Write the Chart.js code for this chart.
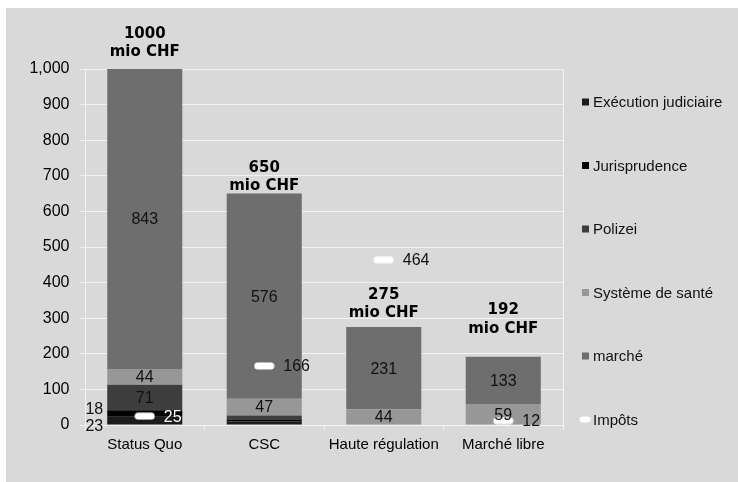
<!DOCTYPE html>
<html>
<head>
<meta charset="utf-8">
<script src="https://cdn.jsdelivr.net/npm/chart.js@4"></script>
<style>
  html, body { margin: 0; padding: 0; background: #fff; }
</style>
</head>
<body>
<canvas id="chart" width="738" height="482"></canvas>
<script>
// scenarios and cost components (mio CHF)
const categories = ['Status Quo', 'CSC', 'Haute régulation', 'Marché libre'];
const execution = [23.3, 10, 0, 0];
const jurisprudence = [18.2, 4, 0, 0];
const polizei = [71.4, 13, 0, 0];
const sante = [44.3, 47, 44, 59];
const marche = [842.8, 576, 231, 133];
const impots = [25, 166, 464, 12];

const GRID = '#f2f2f2';
const FONT = "'Liberation Sans', Arial, sans-serif";

// white dash used as marker for Impôts
function dash(w, h) {
  const c = document.createElement('canvas');
  c.width = w + 1; c.height = h + 1;
  const g = c.getContext('2d');
  g.fillStyle = '#fff';
  g.beginPath();
  g.roundRect(0.5, 0.5, w, h, h / 2);
  g.fill();
  return c;
}
const marker = dash(20, 7);
const legendMarker = dash(11, 6);

const panel = {
  id: 'panel',
  beforeDraw(chart) {
    const ctx = chart.ctx;
    ctx.save();
    ctx.fillStyle = '#fff';
    ctx.fillRect(0, 0, chart.width, chart.height);
    ctx.fillStyle = '#d9d9d9';
    ctx.fillRect(6, 8, chart.width - 6, chart.height - 8);
    ctx.restore();
  }
};

function isDark(hex) {
  const n = parseInt(hex.slice(1), 16);
  return ((n >> 16) + ((n >> 8) & 255) + (n & 255)) / 3 < 90;
}

const labels = {
  id: 'labels',
  afterDatasetsDraw(chart, args, opts) {
    const ctx = chart.ctx;
    const y = chart.scales.y;
    const sets = chart.data.datasets;
    ctx.save();
    ctx.font = '16px ' + FONT;
    ctx.textBaseline = 'middle';

    const outside = categories.map(() => []);
    sets.forEach((ds, di) => {
      const meta = chart.getDatasetMeta(di);
      if (meta.type !== 'bar') return;
      meta.data.forEach((bar, i) => {
        const v = ds.data[i];
        const p = bar.getProps(['x', 'y', 'base', 'width'], true);
        const cy = (p.y + p.base) / 2;
        if (v >= 40) {
          ctx.fillStyle = '#111';
          ctx.textAlign = 'center';
          ctx.fillText(Math.round(v), p.x, cy + 1);
        } else if (v >= 15) {
          outside[i].push({ text: Math.round(v), x: p.x - p.width / 2 - 4, y: cy });
        }
      });
    });

    // small segments: labels left of the bar, spread apart
    outside.forEach(list => {
      if (list.length === 2 && Math.abs(list[0].y - list[1].y) < 16.5) {
        const mid = (list[0].y + list[1].y) / 2 + 1;
        list.sort((a, b) => a.y - b.y);
        list[0].y = mid - 8.25;
        list[1].y = mid + 8.25;
      }
      list.forEach(l => {
        ctx.fillStyle = '#111';
        ctx.textAlign = 'right';
        ctx.fillText(l.text, l.x, l.y);
      });
    });

    // Impôts values next to the markers
    const lineIdx = sets.findIndex(d => d.type === 'line');
    chart.getDatasetMeta(lineIdx).data.forEach((pt, i) => {
      const v = sets[lineIdx].data[i];
      let acc = 0, colour = '#111';
      sets.forEach(ds => {
        if (ds.type === 'line') return;
        if (v >= acc && v < acc + ds.data[i] && isDark(ds.backgroundColor)) colour = '#fff';
        acc += ds.data[i];
      });
      ctx.fillStyle = colour;
      ctx.textAlign = 'left';
      ctx.fillText(v, pt.x + 19, pt.y + 1);
    });

    // totals above each stack
    ctx.font = 'bold 15px "DejaVu Sans", Verdana, sans-serif';
    ctx.textAlign = 'center';
    ctx.textBaseline = 'alphabetic';
    ctx.fillStyle = '#000';
    const barMeta = chart.getDatasetMeta(0);
    categories.forEach((c, i) => {
      const total = sets.filter(d => d.type !== 'line').reduce((s, d) => s + d.data[i], 0);
      const top = y.getPixelForValue(total) - opts.gaps[i];
      const x = barMeta.data[i].x;
      ctx.fillText(Math.round(total), x, top - 18.5);
      ctx.fillText('mio CHF', x, top);
    });
    ctx.restore();
  }
};

const legend = {
  id: 'sideLegend',
  afterDraw(chart) {
    const ctx = chart.ctx;
    ctx.save();
    ctx.font = '15px ' + FONT;
    ctx.textBaseline = 'middle';
    ctx.textAlign = 'left';
    chart.data.datasets.forEach((ds, i) => {
      const cy = 102 + i * 63.5;
      if (ds.type === 'line') {
        ctx.drawImage(legendMarker, 579, cy - 3.5);
      } else {
        ctx.fillStyle = ds.backgroundColor;
        ctx.fillRect(582, cy - 3.5, 7, 7);
      }
      ctx.fillStyle = '#111';
      ctx.fillText(ds.label, 593, cy + 1);
    });
    ctx.restore();
  }
};

const bar = (label, data, color) => ({
  label, data, backgroundColor: color, borderWidth: 0,
  barPercentage: 0.628, categoryPercentage: 1, order: 1
});

new Chart(document.getElementById('chart'), {
  type: 'bar',
  data: {
    labels: categories,
    datasets: [
      bar('Exécution judiciaire', execution, '#1c1c1c'),
      bar('Jurisprudence', jurisprudence, '#020202'),
      bar('Polizei', polizei, '#3e3e3e'),
      bar('Système de santé', sante, '#979797'),
      bar('marché', marche, '#6e6e6e'),
      {
        type: 'line', label: 'Impôts', data: impots, showLine: false,
        pointStyle: marker, pointRadius: 10, backgroundColor: '#fff', order: 0
      }
    ]
  },
  options: {
    responsive: false,
    animation: false,
    layout: { padding: { top: 69, right: 175, left: 0, bottom: 0 } },
    plugins: {
      legend: { display: false },
      tooltip: { enabled: false },
      labels: { gaps: [13, 3.5, 10, 24] }
    },
    scales: {
      x: {
        stacked: true,
        grid: {
          offset: true,
          color: c => c.tick ? 'rgba(0,0,0,0)' : GRID,
          tickColor: GRID,
          tickLength: 5
        },
        border: { color: GRID },
        ticks: { color: '#000', font: { family: FONT, size: 15 }, padding: 6, maxRotation: 0, autoSkip: false },
        afterFit: s => { s.height = 57; }
      },
      y: {
        stacked: true,
        min: 0,
        max: 1000,
        grid: { color: GRID, tickLength: 5 },
        border: { color: GRID },
        ticks: { stepSize: 100, color: '#000', font: { family: FONT, size: 16 }, padding: 10.5 },
        afterFit: s => { s.width = 85; }
      }
    }
  },
  plugins: [panel, labels, legend]
});
</script>
</body>
</html>
